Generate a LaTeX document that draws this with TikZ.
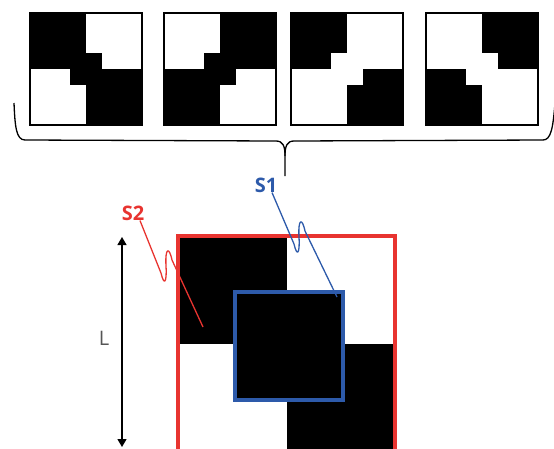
\documentclass[tikz,border=0pt]{standalone}
\usepackage{fontspec}
\setmainfont{Open Sans}
\usetikzlibrary{arrows.meta}
\definecolor{sred}{RGB}{232,52,48}
\definecolor{sblue}{RGB}{45,90,170}
\definecolor{lgray}{RGB}{85,85,85}
\tikzset{
	tile/.style={draw=black, line width=1.2pt},
	lab/.style={font=\fontsize{20}{23}\selectfont\bfseries, inner sep=0pt},
	wig/.style={line width=1.3pt},
	frame/.style={line width=3.2pt},
}

\begin{document}
\begin{tikzpicture}[x=1pt, y=-1pt]
		\useasboundingbox (0,0) rectangle (554,448);
		\begin{scope}[shift={(30,13)}]
			\fill (0,0) rectangle (56,56);
			\fill (56,56) rectangle (112,112);
			\fill (56,40) rectangle (72,56);
			\fill (40,56) rectangle (56,72);
			\draw[tile] (0,0) rectangle (112,112);
		\end{scope}
		\begin{scope}[shift={(164,13)}]
			\fill (56,0) rectangle (112,56);
			\fill (0,56) rectangle (56,112);
			\fill (40,40) rectangle (56,56);
			\fill (56,56) rectangle (72,72);
			\draw[tile] (0,0) rectangle (112,112);
		\end{scope}
		\begin{scope}[shift={(291,13)}]
			\fill (0,0) rectangle (56,56);
			\fill (56,56) rectangle (112,112);
			\fill[white] (40,40) rectangle (56,56);
			\fill[white] (56,56) rectangle (72,72);
			\draw[tile] (0,0) rectangle (112,112);
		\end{scope}
		\begin{scope}[shift={(426,13)}]
			\fill (56,0) rectangle (112,56);
			\fill (0,56) rectangle (56,112);
			\fill[white] (56,40) rectangle (72,56);
			\fill[white] (40,56) rectangle (56,72);
			\draw[tile] (0,0) rectangle (112,112);
		\end{scope}
		\draw[wig] (14,103) .. controls (15,126) and (16,140) .. (25,140) -- (276,141) .. controls (283,141) and (285,146) .. (285,156) -- (285,176);
		\draw[wig] (285,156) .. controls (285,146) and (287,141) .. (294,141) -- (543,140) .. controls (551,140) and (553,128) .. (555,103);
		\fill (178,236) rectangle (287,344);
		\fill (287,344) rectangle (395,452);
		\fill (235,292) rectangle (343,400);
		\draw[frame, sred] (178,236) rectangle (395,452);
		\draw[frame, sblue] (235,292) rectangle (343,400);
		\node[lab, text=sred] (s2) at (133,213) {S2};
		\node[lab, text=sblue] (s1) at (266,185) {S1};
		\node[lab, text=lgray, font=\fontsize{20}{23}\selectfont] (len) at (104,338) {L};
		\coordinate (s2end) at (203,327);
		\coordinate (s1end) at (337,297);
		\coordinate (ltop) at (122,237);
		\coordinate (lbot) at (122,447);
		\draw[{Triangle[length=8pt,width=9pt]}-{Triangle[length=8pt,width=9pt]}, line width=1.3pt] (ltop) -- (lbot);
		\draw[wig, sred] ([xshift=7pt]s2.south) -- (161,273) .. controls (164,286) and (167,283) .. (166,266) .. controls (165,248) and (169,246) .. (172,260) -- (s2end);
		\draw[wig, sblue] ([xshift=6pt]s1.south) -- (294,244) .. controls (297,257) and (300,254) .. (299,237) .. controls (298,219) and (302,217) .. (305,231) -- (s1end);
	\end{tikzpicture}
\end{document}
